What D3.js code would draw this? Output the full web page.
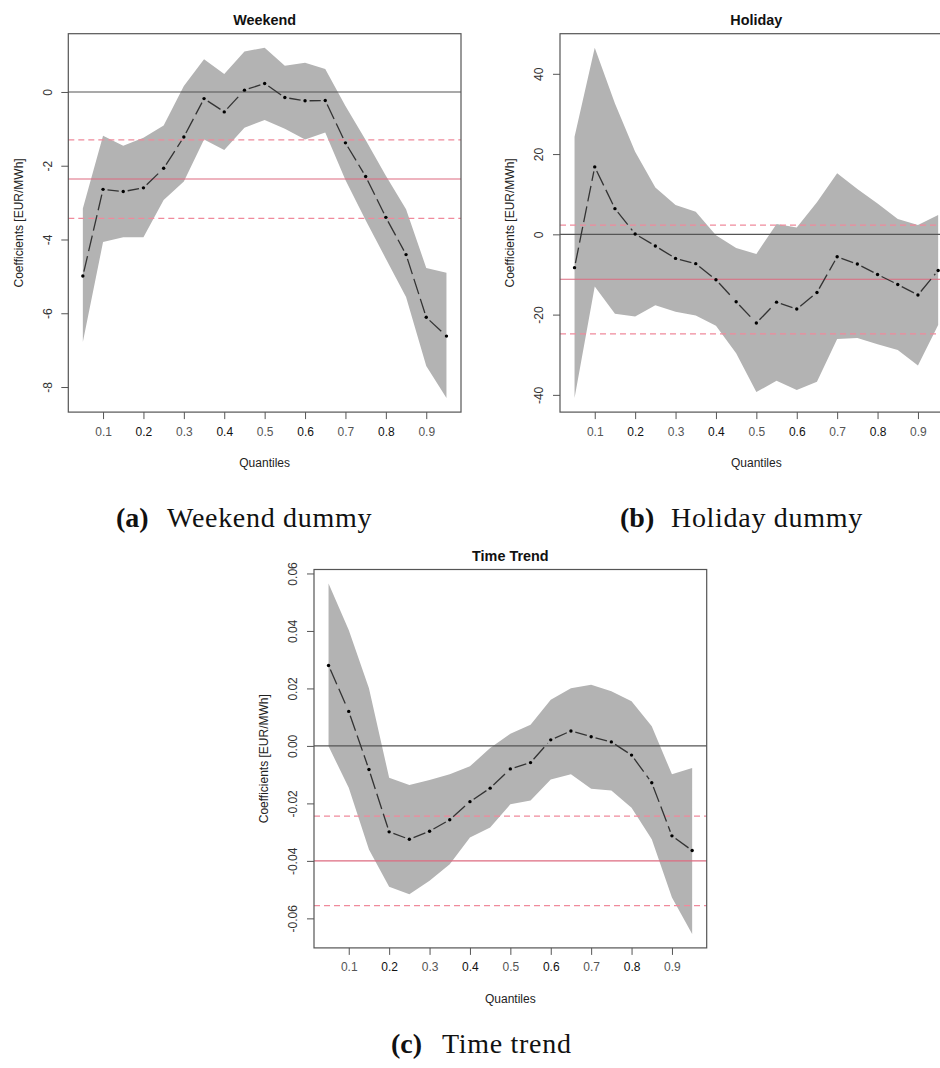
<!DOCTYPE html>
<html>
<head>
<meta charset="utf-8">
<script src="https://cdn.jsdelivr.net/npm/d3@7"></script>
<style>
  body { margin: 0; background: #fff; }
  svg { display: block; }
  text { font-family: "Liberation Sans", Arial, sans-serif; }
</style>
</head>
<body>
<div id="chart"></div>
<script>
// quantile grid shared by all three panels
const quantiles = [0.05, 0.10, 0.15, 0.20, 0.25, 0.30, 0.35, 0.40, 0.45, 0.50,
                   0.55, 0.60, 0.65, 0.70, 0.75, 0.80, 0.85, 0.90, 0.95];
const xTicks = [0.1, 0.2, 0.3, 0.4, 0.5, 0.6, 0.7, 0.8, 0.9];

// (a) weekend dummy
const weekendCoef  = [-4.99, -2.64, -2.70, -2.60, -2.07, -1.22, -0.18, -0.54, 0.05, 0.23,
                      -0.15, -0.24, -0.23, -1.38, -2.29, -3.40, -4.41, -6.11, -6.62];
const weekendUpper = [-3.16, -1.19, -1.46, -1.24, -0.91, 0.16, 0.89, 0.49, 1.10, 1.20,
                      0.71, 0.79, 0.62, -0.38, -1.30, -2.27, -3.18, -4.77, -4.90];
const weekendLower = [-6.78, -4.07, -3.94, -3.94, -2.93, -2.43, -1.29, -1.57, -0.97, -0.76,
                      -1.00, -1.29, -1.10, -2.39, -3.48, -4.52, -5.56, -7.43, -8.30];
const weekendOls = [-2.36, -1.30, -3.43];   // estimate, upper, lower
const weekendYTicks = [0, -2, -4, -6, -8];
const weekendYLabels = ["0", "-2", "-4", "-6", "-8"];

// (b) holiday dummy
const holidayCoef  = [-8.3, 16.8, 6.4, 0.1, -2.9, -6.0, -7.3, -11.3, -16.8, -22.1,
                      -16.9, -18.6, -14.5, -5.6, -7.4, -10.0, -12.5, -15.1, -9.0];
const holidayUpper = [24.3, 46.5, 32.6, 20.6, 11.7, 7.3, 5.6, -0.2, -3.4, -4.9,
                      2.6, 1.7, 8.0, 15.2, 11.3, 7.7, 3.8, 2.3, 4.8];
const holidayLower = [-40.8, -13.0, -19.8, -20.5, -17.7, -19.3, -20.2, -22.8, -29.6, -39.3,
                      -36.5, -38.8, -36.7, -26.1, -25.8, -27.4, -28.8, -32.7, -22.6];
const holidayOls = [-11.2, 2.3, -24.8];
const holidayYTicks = [40, 20, 0, -20, -40];
const holidayYLabels = ["40", "20", "0", "-20", "-40"];

// (c) time trend
const trendCoef  = [0.0280, 0.0120, -0.0082, -0.0299, -0.0325, -0.0297, -0.0257, -0.0194, -0.0147, -0.0080,
                    -0.0058, 0.0021, 0.0052, 0.0032, 0.0014, -0.0032, -0.0128, -0.0313, -0.0364];
const trendUpper = [0.0565, 0.0403, 0.0201, -0.0111, -0.0136, -0.0119, -0.0099, -0.0071, -0.0007, 0.0042,
                    0.0074, 0.0161, 0.0201, 0.0213, 0.0190, 0.0155, 0.0068, -0.0099, -0.0077];
const trendLower = [-0.0001, -0.0146, -0.0360, -0.0490, -0.0516, -0.0469, -0.0412, -0.0319, -0.0284, -0.0203,
                    -0.0190, -0.0117, -0.0099, -0.0149, -0.0155, -0.0215, -0.0325, -0.0527, -0.0654];
const trendOls = [-0.0400, -0.0244, -0.0556];
const trendYTicks = [0.06, 0.04, 0.02, 0, -0.02, -0.04, -0.06];
const trendYLabels = ["0.06", "0.04", "0.02", "0.00", "-0.02", "-0.04", "-0.06"];

const W = 940, H = 1068;
const boxW = 392.7, boxH = 378.4;

var svg = d3.select("#chart").append("svg")
    .attr("width", W)
    .attr("height", H);

// R style 4% axis expansion
function expand(lo, hi) {
    var pad = (hi - lo) * 0.04;
    return [lo - pad, hi + pad];
}

function drawPanel(p) {
    var g = svg.append("g")
        .attr("transform", "translate(" + p.left + "," + p.top + ")");

    var x = d3.scaleLinear()
        .domain(expand(d3.min(quantiles), d3.max(quantiles)))
        .range([0, boxW]);
    var y = d3.scaleLinear()
        .domain(expand(d3.min(p.lower), d3.max(p.upper)))
        .range([boxH, 0]);

    var rows = quantiles.map((q, i) => ({ q: q, c: p.coef[i], lo: p.lower[i], hi: p.upper[i] }));

    // confidence band
    var area = d3.area()
        .x(d => x(d.q))
        .y0(d => y(d.lo))
        .y1(d => y(d.hi));
    g.append("path")
        .datum(rows)
        .attr("d", area)
        .attr("fill", "#b3b3b3");

    // zero line
    g.append("line")
        .attr("x1", 0).attr("x2", boxW)
        .attr("y1", y(0)).attr("y2", y(0))
        .attr("stroke", "#555")
        .attr("stroke-width", 1.1);

    // OLS estimate and its interval
    g.append("line")
        .attr("x1", 0).attr("x2", boxW)
        .attr("y1", y(p.ols[0])).attr("y2", y(p.ols[0]))
        .attr("stroke", "#dd6b80")
        .attr("stroke-width", 1.1);
    g.selectAll(".olsci")
        .data(p.ols.slice(1))
        .enter().append("line")
        .attr("class", "olsci")
        .attr("x1", 0).attr("x2", boxW)
        .attr("y1", d => y(d)).attr("y2", d => y(d))
        .attr("stroke", "#f08a9c")
        .attr("stroke-width", 1.2)
        .attr("stroke-dasharray", "6,4");

    // quantile coefficients, type "b": segments with gaps around points
    var gap = 4.5;
    var segs = [];
    for (let i = 0; i < rows.length - 1; i++) {
        var x0 = x(rows[i].q), y0 = y(rows[i].c);
        var x1 = x(rows[i + 1].q), y1 = y(rows[i + 1].c);
        var len = Math.hypot(x1 - x0, y1 - y0);
        if (len <= 2 * gap) continue;
        var ux = (x1 - x0) / len, uy = (y1 - y0) / len;
        segs.push([x0 + ux * gap, y0 + uy * gap, x1 - ux * gap, y1 - uy * gap]);
    }
    g.selectAll(".seg")
        .data(segs)
        .enter().append("line")
        .attr("class", "seg")
        .attr("x1", d => d[0]).attr("y1", d => d[1])
        .attr("x2", d => d[2]).attr("y2", d => d[3])
        .attr("stroke", "#333")
        .attr("stroke-width", 1.3)
        .attr("stroke-dasharray", "16,5");

    g.selectAll(".pt")
        .data(rows)
        .enter().append("circle")
        .attr("class", "pt")
        .attr("cx", d => x(d.q))
        .attr("cy", d => y(d.c))
        .attr("r", 1.7)
        .attr("fill", "#000");

    // box
    g.append("rect")
        .attr("width", boxW)
        .attr("height", boxH)
        .attr("fill", "none")
        .attr("stroke", "#555")
        .attr("stroke-width", 1.2);

    // x axis
    var xAxis = d3.axisBottom(x)
        .tickValues(xTicks)
        .tickSize(7)
        .tickSizeOuter(0)
        .tickPadding(8)
        .tickFormat(d3.format(".1f"));
    var gx = g.append("g")
        .attr("transform", "translate(0," + boxH + ")")
        .call(xAxis);
    gx.select(".domain").remove();
    gx.selectAll("line").attr("stroke", "#555");
    gx.selectAll("text")
        .style("font-size", "12px")
        .attr("fill", (d, i) => i % 2 ? "#111" : "#555");

    // y axis with rotated labels
    var yAxis = d3.axisLeft(y)
        .tickValues(p.yTicks)
        .tickSize(7)
        .tickSizeOuter(0)
        .tickFormat((d, i) => p.yLabels[i]);
    var gy = g.append("g").call(yAxis);
    gy.select(".domain").remove();
    gy.selectAll("line").attr("stroke", "#555");
    gy.selectAll("text")
        .attr("x", null).attr("dy", null)
        .attr("transform", "translate(-21,0) rotate(-90)")
        .attr("text-anchor", "middle")
        .attr("dy", "0.35em")
        .style("font-size", "12px")
        .attr("fill", "#333");

    // titles
    g.append("text")
        .attr("x", boxW / 2)
        .attr("y", -9)
        .attr("text-anchor", "middle")
        .style("font-size", "14.4px")
        .style("font-weight", "bold")
        .attr("fill", "#111")
        .text(p.title);
    g.append("text")
        .attr("x", boxW / 2)
        .attr("y", boxH + 55)
        .attr("text-anchor", "middle")
        .style("font-size", "12px")
        .attr("fill", "#222")
        .text("Quantiles");
    g.append("text")
        .attr("transform", "translate(-50," + (boxH / 2) + ") rotate(-90)")
        .attr("text-anchor", "middle")
        .attr("dy", "0.35em")
        .style("font-size", "12px")
        .attr("fill", "#222")
        .text("Coefficients [EUR/MWh]");
}

drawPanel({ left: 68.3, top: 33.7, title: "Weekend",
    coef: weekendCoef, lower: weekendLower, upper: weekendUpper, ols: weekendOls,
    yTicks: weekendYTicks, yLabels: weekendYLabels });
drawPanel({ left: 560, top: 33.7, title: "Holiday",
    coef: holidayCoef, lower: holidayLower, upper: holidayUpper, ols: holidayOls,
    yTicks: holidayYTicks, yLabels: holidayYLabels });
drawPanel({ left: 314, top: 569.5, title: "Time Trend",
    coef: trendCoef, lower: trendLower, upper: trendUpper, ols: trendOls,
    yTicks: trendYTicks, yLabels: trendYLabels });

// sub-figure captions
const captions = [
    { tag: "(a)", label: "Weekend dummy", x: 116, x2: 167, y: 527 },
    { tag: "(b)", label: "Holiday dummy", x: 620, x2: 671, y: 527 },
    { tag: "(c)", label: "Time trend", x: 391, x2: 442, y: 1053 }
];
captions.forEach(function (c) {
    svg.append("text")
        .attr("x", c.x).attr("y", c.y)
        .style("font-family", "'Liberation Serif', 'Times New Roman', serif")
        .style("font-size", "28px")
        .style("font-weight", "bold")
        .attr("fill", "#111")
        .text(c.tag);
    svg.append("text")
        .attr("x", c.x2).attr("y", c.y)
        .style("font-family", "'Liberation Serif', 'Times New Roman', serif")
        .style("font-size", "28px")
        .style("letter-spacing", "0.7px")
        .attr("fill", "#111")
        .text(c.label);
});
</script>
</body>
</html>
